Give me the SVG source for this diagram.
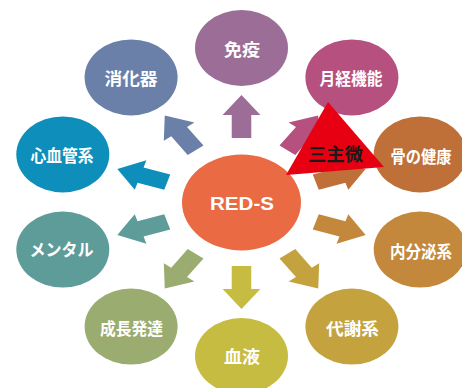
<svg xmlns="http://www.w3.org/2000/svg" width="462" height="388" viewBox="0 0 462 388">
<style>
.lbl{font-family:"Noto Sans CJK JP","Noto Sans",sans-serif;font-weight:bold;font-size:17px;fill:#ffffff;text-anchor:middle;dominant-baseline:central}
.core{font-family:"Liberation Sans",Arial,sans-serif;font-weight:bold;font-size:19px;fill:#ffffff;text-anchor:middle}
.tri{font-family:"Noto Sans CJK JP","Noto Sans",sans-serif;font-weight:bold;font-size:18px;fill:#1a1a1a;text-anchor:middle;dominant-baseline:central}
</style>
<defs>
<polygon id="arr" points="64,-8 87,-8 87,-15.5 107,0 87,15.5 87,8 64,8"/>
</defs>
<rect width="462" height="388" fill="#ffffff"/>
<g id="connectors" transform="translate(241.5,202) scale(1.22,1)">
<use href="#arr" transform="rotate(-90)" fill="#9b6d97"/>
<use href="#arr" transform="rotate(-54)" fill="#b5507f"/>
<use href="#arr" transform="rotate(-18)" fill="#bf7038"/>
<use href="#arr" transform="rotate(18)" fill="#c3883c"/>
<use href="#arr" transform="rotate(54)" fill="#c4a33f"/>
<use href="#arr" transform="rotate(90)" fill="#c6bc42"/>
<use href="#arr" transform="rotate(126)" fill="#9bac70"/>
<use href="#arr" transform="rotate(162)" fill="#5e9c9a"/>
<use href="#arr" transform="rotate(198)" fill="#0e8fbb"/>
<use href="#arr" transform="rotate(234)" fill="#6a80a8"/>
</g>
<g id="n-immune"><ellipse cx="241.5" cy="48" rx="46.5" ry="38" fill="#9b6d97"/><text class="lbl" x="242" y="48" textLength="36" lengthAdjust="spacingAndGlyphs">免疫</text></g>
<g id="n-menstrual"><ellipse cx="351.9" cy="77.4" rx="46.5" ry="38" fill="#b5507f"/><text class="lbl" x="351" y="77" textLength="63" lengthAdjust="spacingAndGlyphs">月経機能</text></g>
<g id="n-bone"><ellipse cx="420.2" cy="154.4" rx="46.5" ry="38" fill="#bf7038"/><text class="lbl" x="421" y="155" textLength="61" lengthAdjust="spacingAndGlyphs">骨の健康</text></g>
<g id="n-endocrine"><ellipse cx="420.2" cy="249.6" rx="46.5" ry="38" fill="#c3883c"/><text class="lbl" x="421" y="250" textLength="62" lengthAdjust="spacingAndGlyphs">内分泌系</text></g>
<g id="n-metabolic"><ellipse cx="351.9" cy="326.6" rx="46.5" ry="38" fill="#c4a33f"/><text class="lbl" x="352.5" y="327" textLength="53" lengthAdjust="spacingAndGlyphs">代謝系</text></g>
<g id="n-blood"><ellipse cx="241.5" cy="356" rx="46.5" ry="38" fill="#c6bc42"/><text class="lbl" x="242" y="355" textLength="36" lengthAdjust="spacingAndGlyphs">血液</text></g>
<g id="n-growth"><ellipse cx="131.1" cy="326.6" rx="46.5" ry="38" fill="#9bac70"/><text class="lbl" x="131.5" y="327" textLength="63" lengthAdjust="spacingAndGlyphs">成長発達</text></g>
<g id="n-mental"><ellipse cx="62.8" cy="249.6" rx="46.5" ry="38" fill="#5e9c9a"/><text class="lbl" x="61.5" y="248.5" textLength="64" lengthAdjust="spacingAndGlyphs">メンタル</text></g>
<g id="n-cardio"><ellipse cx="62.8" cy="154.4" rx="46.5" ry="38" fill="#0e8fbb"/><text class="lbl" x="62" y="154" textLength="63" lengthAdjust="spacingAndGlyphs">心血管系</text></g>
<g id="n-digestive"><ellipse cx="131.1" cy="77.4" rx="46.5" ry="38" fill="#6a80a8"/><text class="lbl" x="131" y="77" textLength="53" lengthAdjust="spacingAndGlyphs">消化器</text></g>
<g id="n-reds"><ellipse cx="241.5" cy="202.5" rx="59.5" ry="48" fill="#e96a43"/><text class="core" x="242" y="209.5" textLength="64" lengthAdjust="spacingAndGlyphs">RED-S</text></g>
<g id="n-triad"><polygon points="328,102 286,175 384,167" fill="#e60012"/><text class="tri" x="335.5" y="153" textLength="55" lengthAdjust="spacingAndGlyphs">三主微</text></g>
</svg>
